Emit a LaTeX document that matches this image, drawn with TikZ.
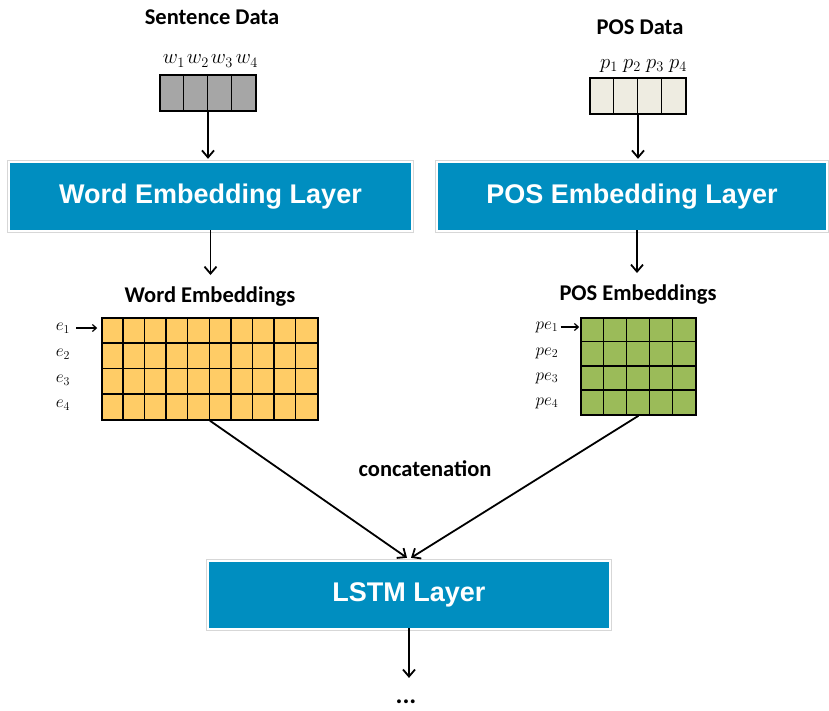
\documentclass[tikz,border=0pt]{standalone}
\usepackage{fontspec}
\setmainfont{Carlito}
\newfontfamily\arialfont{Liberation Sans}
\usetikzlibrary{arrows.meta}
\definecolor{layerblue}{RGB}{0,142,192}
\definecolor{wordgray}{RGB}{166,166,166}
\definecolor{posbeige}{RGB}{238,236,225}
\definecolor{embyellow}{RGB}{255,204,102}
\definecolor{embgreen}{RGB}{155,187,89}
\definecolor{outlinegray}{RGB}{215,215,215}
\tikzset{
  layer/.style={rectangle, fill=layerblue, text=white, inner sep=0pt,
    font=\arialfont\bfseries\fontsize{27}{31}\selectfont},
  title/.style={font=\bfseries\fontsize{22.5}{26}\selectfont, inner sep=0pt},
  cellbox/.style={rectangle, draw=black, line width=1.5pt, inner sep=0pt},
  gridline/.style={draw=black, line width=1.5pt},
  arr/.style={-{Straight Barb[length=7pt,width=12pt]}, line width=1.8pt},
  smallarr/.style={-{Straight Barb[length=4pt,width=7pt]}, line width=1.2pt},
  lbl/.style={font=\fontsize{19.5}{21}\selectfont, inner sep=0pt},
  elbl/.style={font=\fontsize{17.5}{19}\selectfont, inner sep=0pt},
  outline/.style={draw=outlinegray, line width=0.8pt}
}
\begin{document}
\begin{tikzpicture}[x=1pt,y=-1pt]
\useasboundingbox (0,0) rectangle (829,710);

% titles
\node[title] (stitle) at (212,17) {Sentence Data};
\node[title] (ptitle) at (640,27) {POS Data};

% input boxes
\node[cellbox, fill=wordgray, minimum width=96pt, minimum height=36pt] (sbox) at (208,93) {};
\foreach \i in {1,2,3} \draw[gridline] ([xshift=24*\i]sbox.north west) -- ([xshift=24*\i]sbox.south west);
\node[cellbox, fill=posbeige, minimum width=96pt, minimum height=36pt] (pbox) at (638,96) {};
\foreach \i in {1,2,3} \draw[gridline] ([xshift=24*\i]pbox.north west) -- ([xshift=24*\i]pbox.south west);

% w and p labels
\node[lbl] (w1) at (174,61) {$w_1$};
\node[lbl] (w2) at (198,61) {$w_2$};
\node[lbl] (w3) at (222,61) {$w_3$};
\node[lbl] (w4) at (247,61) {$w_4$};
\node[lbl] (p1) at (609,66) {$p_1$};
\node[lbl] (p2) at (632,66) {$p_2$};
\node[lbl] (p3) at (655,66) {$p_3$};
\node[lbl] (p4) at (678,66) {$p_4$};

% layers
\node[layer, minimum width=401pt, minimum height=67pt] (wel) at (210.5,196.5) {Word Embedding Layer};
\node[layer, minimum width=388pt, minimum height=67pt] (pel) at (632,196.5) {POS Embedding Layer};
\node[layer, minimum width=400pt, minimum height=66pt] (lstm) at (409,595) {LSTM Layer};
\foreach \n in {wel,pel,lstm}
  \draw[outline] ([shift={(-2.5,-2.5)}]\n.north west) rectangle ([shift={(2.5,2.5)}]\n.south east);

% arrows from inputs
\draw[arr] (sbox.south) -- ([yshift=4]sbox.south |- wel.north);
\draw[arr] (pbox.south) -- ([yshift=4]pbox.south |- pel.north);

% embedding titles
\node[title] (wetitle) at (210,297) {Word Embeddings};
\node[title] (petitle) at (638,295) {POS Embeddings};
\coordinate (pelout) at ([xshift=5]pel.south);
\draw[arr] (wel.south) -- ([yshift=12]wel.south |- wetitle.north);
\draw[arr] (pelout) -- ([yshift=12]pelout |- petitle.north);

% word grid
\node[cellbox, fill=embyellow, minimum width=216pt, minimum height=102pt] (wgrid) at (210,369) {};
\foreach \i in {1,...,9} \draw[gridline] ([xshift=21.6*\i]wgrid.north west) -- ([xshift=21.6*\i]wgrid.south west);
\foreach \j in {1,2,3} \draw[gridline] ([yshift=-25.5*\j]wgrid.north west) -- ([yshift=-25.5*\j]wgrid.north east);

% pos grid
\node[cellbox, fill=embgreen, minimum width=115pt, minimum height=97pt] (pgrid) at (638.5,366.5) {};
\foreach \i in {1,...,4} \draw[gridline] ([xshift=23*\i]pgrid.north west) -- ([xshift=23*\i]pgrid.south west);
\foreach \j in {1,2,3} \draw[gridline] ([yshift=-24.25*\j]pgrid.north west) -- ([yshift=-24.25*\j]pgrid.north east);

% e labels
\node[elbl] (e1) at (63,328) {$e_1$};
\node[elbl] (e2) at (63,354) {$e_2$};
\node[elbl] (e3) at (63,380) {$e_3$};
\node[elbl] (e4) at (63,405) {$e_4$};
\draw[smallarr] ([xshift=6]e1.east) -- ([xshift=-4]wgrid.west |- e1);

% pe labels
\node[elbl] (pe1) at (547,327) {$pe_1$};
\node[elbl] (pe2) at (547,353) {$pe_2$};
\node[elbl] (pe3) at (547,378) {$pe_3$};
\node[elbl] (pe4) at (547,403) {$pe_4$};
\draw[smallarr] ([xshift=2]pe1.east) -- ([xshift=-1]pgrid.west |- pe1);

% concatenation
\node[title] (concat) at (425,469) {concatenation};
\draw[arr] (wgrid.south) -- ([xshift=-2,yshift=4]lstm.north);
\draw[arr] (pgrid.south) -- ([xshift=2,yshift=4]lstm.north);

% output
\node[font=\bfseries\fontsize{26}{28}\selectfont, inner sep=0pt] (dots) at (406,702) {...};
\draw[arr] (lstm.south) -- ([yshift=22]lstm.south |- dots.north);
\end{tikzpicture}
\end{document}
